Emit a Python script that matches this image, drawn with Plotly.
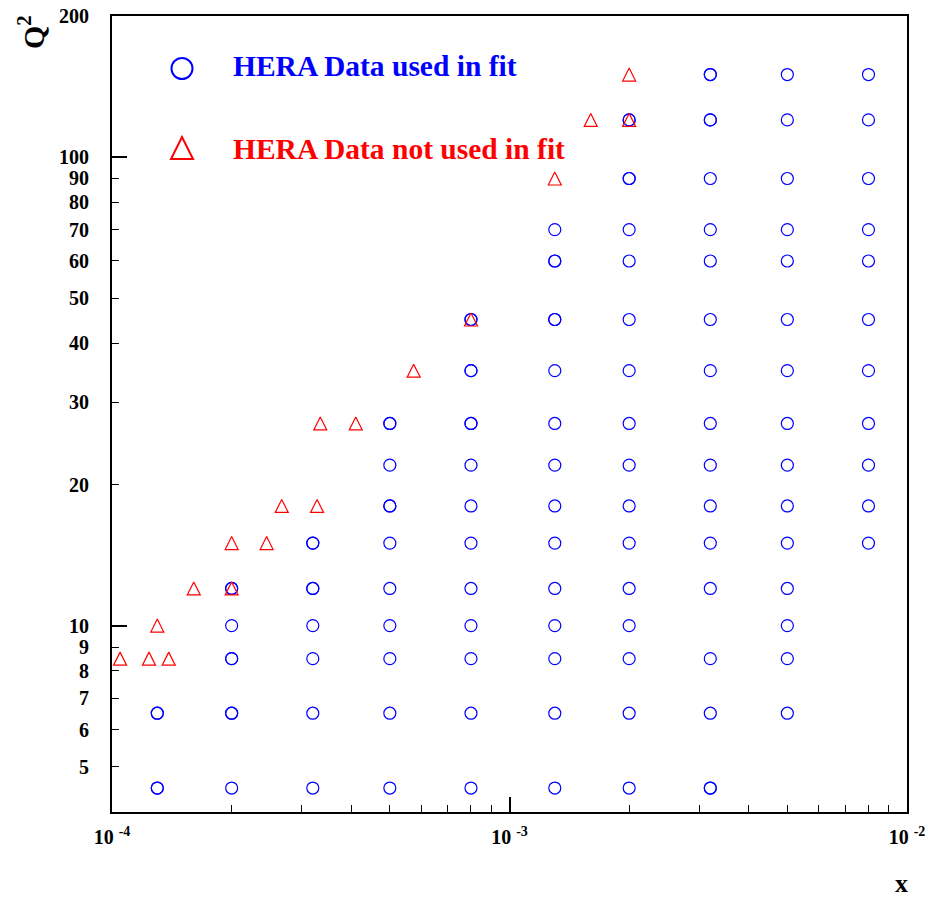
import plotly.graph_objects as go
import math

# ---- data: HERA (x, Q^2) points ----
used_x = (
    [1.3e-4] * 2
    + [2e-4] * 5
    + [3.2e-4] * 6
    + [5e-4] * 9
    + [8e-4] * 11
    + [1.3e-3] * 13
    + [2e-3] * 15
    + [3.2e-3] * 15
    + [5e-3] * 15
    + [8e-3] * 11
)
used_q2 = (
    [4.5, 6.5]
    + [4.5, 6.5, 8.5, 10, 12]
    + [4.5, 6.5, 8.5, 10, 12, 15]
    + [4.5, 6.5, 8.5, 10, 12, 15, 18, 22, 27]
    + [4.5, 6.5, 8.5, 10, 12, 15, 18, 22, 27, 35, 45]
    + [4.5, 6.5, 8.5, 10, 12, 15, 18, 22, 27, 35, 45, 60, 70]
    + [4.5, 6.5, 8.5, 10, 12, 15, 18, 22, 27, 35, 45, 60, 70, 90, 120]
    + [4.5, 6.5, 8.5, 12, 15, 18, 22, 27, 35, 45, 60, 70, 90, 120, 150]
    + [6.5, 8.5, 10, 12, 15, 18, 22, 27, 35, 45, 60, 70, 90, 120, 150]
    + [15, 18, 22, 27, 35, 45, 60, 70, 90, 120, 150]
)

# second measurement at the same bin (drawn on top, same style)
repeat_x = [1.3e-4, 1.3e-4, 2e-4, 2e-4, 2e-4, 3.2e-4, 3.2e-4, 5e-4, 5e-4,
            8e-4, 8e-4, 8e-4, 1.3e-3, 1.3e-3, 2e-3, 2e-3, 3.2e-3, 3.2e-3, 3.2e-3]
repeat_q2 = [4.5, 6.5, 6.5, 8.5, 12, 12, 15, 18, 27,
             27, 35, 45, 45, 60, 90, 120, 120, 150, 4.5]

notused_x = [1.048e-4, 1.239e-4, 1.389e-4, 1.30e-4, 1.606e-4, 2.0e-4, 2.0e-4,
             2.449e-4, 2.673e-4, 3.28e-4, 3.342e-4, 4.104e-4, 5.74e-4, 8.0e-4,
             1.3e-3, 1.601e-3, 2.0e-3, 2.0e-3]
notused_q2 = [8.5, 8.5, 8.5, 10, 12, 12, 15,
              15, 18, 18, 27, 27, 35, 45,
              90, 120, 120, 150]

# ---- axis ticks ----
x_major = [1e-4, 1e-3, 1e-2]
x_major_text = ["10 <sup>-4</sup>", "10 <sup>-3</sup>", "10 <sup>-2</sup>"]
x_minor = [2e-4, 3e-4, 4e-4, 5e-4, 6e-4, 7e-4, 8e-4, 9e-4,
           2e-3, 3e-3, 4e-3, 5e-3, 6e-3, 7e-3, 8e-3, 9e-3]
y_ticks = [5, 6, 7, 8, 9, 10, 20, 30, 40, 50, 60, 70, 80, 90, 100, 200]
y_long = [10, 100]

X_RANGE = [-4, -2]
Y_RANGE = [math.log10(4), math.log10(200)]

FONT = "Liberation Serif, Times New Roman, serif"
BLUE = "#0000ff"
RED = "#ff0000"

fig = go.Figure()
fig.add_trace(go.Scatter(
    x=used_x, y=used_q2, mode="markers", name="HERA Data used in fit",
    marker=dict(symbol="circle-open", size=12, color=BLUE, line=dict(width=1.2, color=BLUE)),
    showlegend=False,
))
fig.add_trace(go.Scatter(
    x=repeat_x, y=repeat_q2, mode="markers", name="HERA Data used in fit (repeat)",
    marker=dict(symbol="circle-open", size=12, color=BLUE, line=dict(width=1.2, color=BLUE)),
    showlegend=False,
))
fig.add_trace(go.Scatter(
    x=notused_x, y=notused_q2, mode="markers", name="HERA Data not used in fit",
    marker=dict(symbol="arrow-down-open", size=13, standoff=6.5, angle=180,
                color=RED, line=dict(width=1.2, color=RED)),
    showlegend=False,
))
# empty trace so the overlay axis (long ticks at 10, 100) is drawn
fig.add_trace(go.Scatter(x=[], y=[], yaxis="y2", showlegend=False, hoverinfo="skip"))

tickfont = dict(family=FONT, size=20, color="black", weight="bold")

fig.update_layout(
    width=932, height=899,
    margin=dict(l=112, r=25, t=16, b=87, autoexpand=False),
    paper_bgcolor="white", plot_bgcolor="white",
    font=dict(family=FONT, size=20, color="black"),
    showlegend=False,
    xaxis=dict(
        type="log", range=X_RANGE, automargin=False,
        tickmode="array", tickvals=x_major, ticktext=x_major_text,
        ticks="inside", ticklen=15, tickwidth=1.5, tickcolor="black",
        minor=dict(tickmode="array", tickvals=x_minor, ticks="inside",
                   ticklen=7, tickwidth=1.2, tickcolor="black", showgrid=False),
        showline=True, linecolor="black", linewidth=2, mirror=True,
        showgrid=False, zeroline=False,
        tickfont=tickfont, ticklabelstandoff=6,
    ),
    yaxis=dict(
        type="log", range=Y_RANGE, automargin=False,
        tickmode="array", tickvals=y_ticks, ticktext=[str(v) for v in y_ticks],
        ticks="inside", ticklen=7, tickwidth=1.2, tickcolor="black",
        showline=True, linecolor="black", linewidth=2, mirror=True,
        showgrid=False, zeroline=False,
        tickfont=tickfont, ticklabelstandoff=17,
    ),
    yaxis2=dict(
        type="log", range=Y_RANGE, overlaying="y", side="left", automargin=False,
        tickmode="array", tickvals=y_long, showticklabels=False,
        ticks="inside", ticklen=15, tickwidth=1.5, tickcolor="black",
        showline=False, showgrid=False, zeroline=False,
    ),
)

# legend glyphs (paper-anchored, pixel sized)
PLOT_W, PLOT_H, L, T = 795, 796, 112, 16
def px2paper(px, py):
    return (px - L) / PLOT_W, (T + PLOT_H - py) / PLOT_H

cx, cy = px2paper(182, 68.5)
fig.add_shape(type="circle", xref="paper", yref="paper", xsizemode="pixel", ysizemode="pixel",
              xanchor=cx, yanchor=cy, x0=-10.5, x1=10.5, y0=-10.5, y1=10.5,
              line=dict(color=BLUE, width=2))
tx, ty = px2paper(182, 148)
fig.add_shape(type="path", xref="paper", yref="paper", xsizemode="pixel", ysizemode="pixel",
              xanchor=tx, yanchor=ty, path="M-11,-11 L11,-11 L0,11 Z",
              line=dict(color=RED, width=2))

ax1, ay1 = px2paper(231, 66.4)
fig.add_annotation(xref="paper", yref="paper", x=ax1, y=ay1, xanchor="left", yanchor="middle",
                   text="HERA Data used in fit", showarrow=False,
                   font=dict(family=FONT, size=29.5, color=BLUE, weight="bold"))
ax2, ay2 = px2paper(231, 148.7)
fig.add_annotation(xref="paper", yref="paper", x=ax2, y=ay2, xanchor="left", yanchor="middle",
                   text="HERA Data not used in fit", showarrow=False,
                   font=dict(family=FONT, size=29.5, color=RED, weight="bold"))

# axis titles
qx, qy = px2paper(31, 32)
fig.add_annotation(xref="paper", yref="paper", x=qx, y=qy, xanchor="center", yanchor="middle",
                   text="Q<sup>2</sup>", textangle=-90, showarrow=False,
                   font=dict(family=FONT, size=30, color="black", weight="bold"))
xx, xy = px2paper(901, 883)
fig.add_annotation(xref="paper", yref="paper", x=xx, y=xy, xanchor="center", yanchor="middle",
                   text="x", showarrow=False,
                   font=dict(family=FONT, size=26, color="black", weight="bold"))

fig.write_html("out.html")
